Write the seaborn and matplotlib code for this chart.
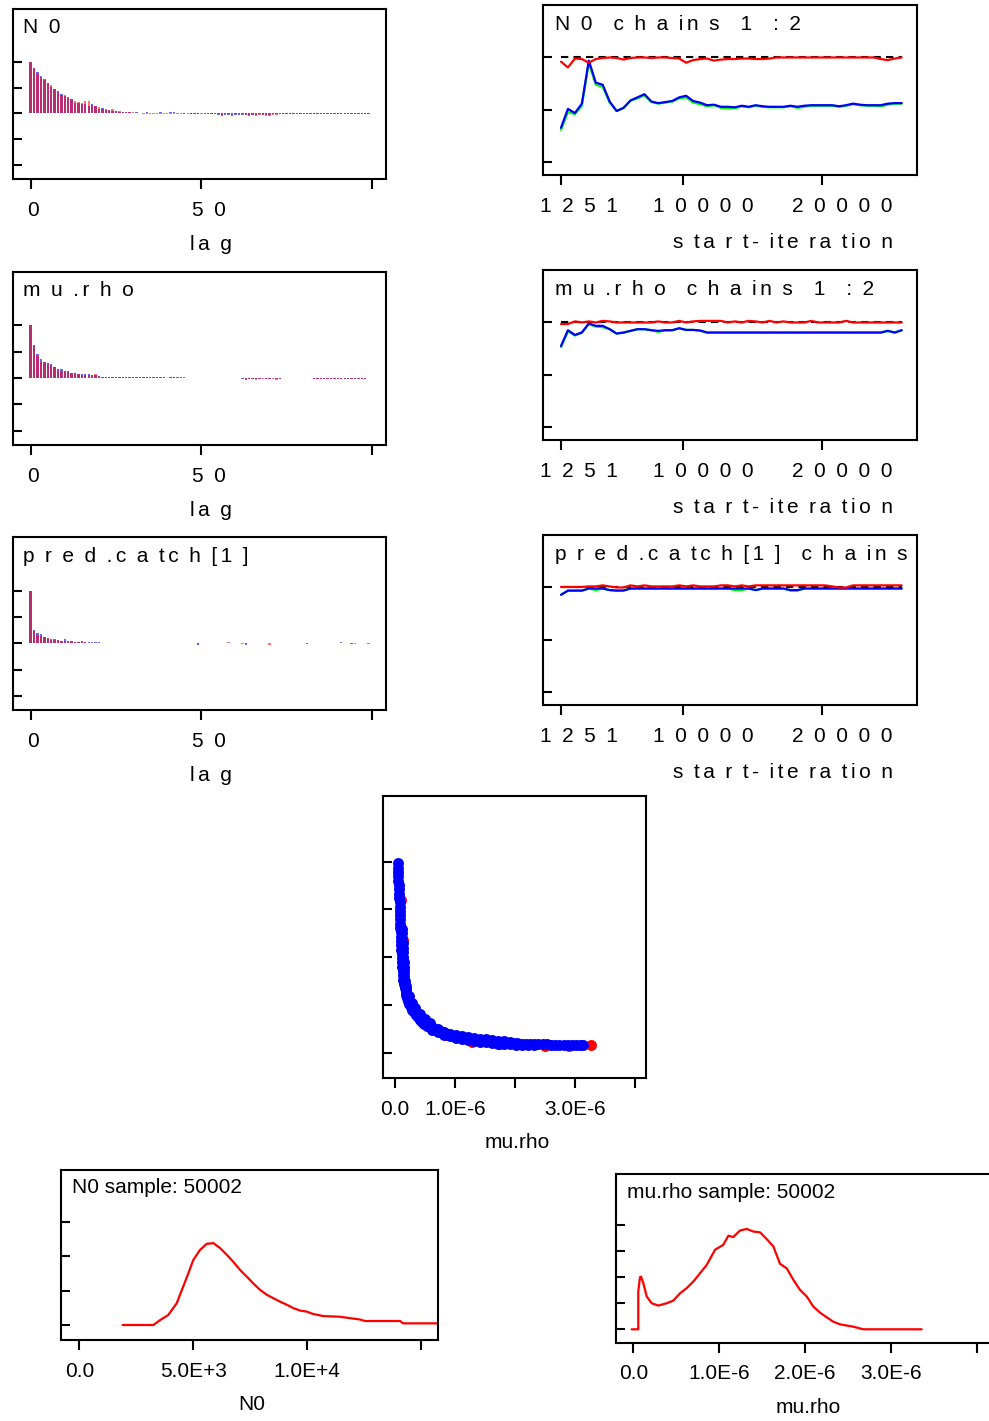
import numpy as np
import matplotlib
matplotlib.use("Agg")
import matplotlib.pyplot as plt
from matplotlib.transforms import ScaledTranslation
import seaborn as sns

# ---------------------------------------------------------------- data
# autocorrelation by lag (0..99), chain 1 (blue) and chain 2 (red)
n0_acf_c1 = [1.00, 0.88, 0.81, 0.73, 0.66, 0.59, 0.52, 0.48, 0.43, 0.38,
             0.34, 0.31, 0.27, 0.21, 0.20, 0.19, 0.19, 0.15, 0.18, 0.15,
             0.08, 0.10, 0.07, 0.07, 0.04, 0.05, 0.03, 0.02, 0.03, 0.02,
             0.01, 0.02, 0.01, 0.01, 0.02, 0.01, 0.00, 0.01, 0.02, 0.01,
             0.01, 0.03, 0.03, 0.01, 0.00, -0.01, 0.00, -0.01, -0.01, -0.01,
             0.00, -0.01, -0.02, -0.01, -0.02, -0.03, -0.05, -0.03, -0.03, -0.05,
             -0.03, -0.03, -0.03, -0.04, -0.05, -0.03, -0.03, -0.02, -0.03, -0.03,
             -0.04, -0.02, -0.01, -0.02, -0.01, -0.01, -0.01, -0.02, -0.01, -0.01,
             -0.01, -0.01, -0.01, -0.01, -0.01, -0.02, -0.01, -0.01, -0.02, -0.02,
             -0.01, -0.02, -0.01, -0.01, -0.02, -0.02, -0.02, -0.01, -0.01, -0.02]
n0_acf_c2 = [1.00, 0.87, 0.77, 0.69, 0.65, 0.58, 0.54, 0.47, 0.42, 0.36,
             0.35, 0.30, 0.27, 0.24, 0.22, 0.20, 0.24, 0.24, 0.17, 0.14,
             0.13, 0.09, 0.08, 0.06, 0.08, 0.05, 0.04, 0.03, 0.02, 0.02,
             0.02, 0.01, 0.00, -0.01, -0.02, -0.01, -0.01, -0.01, -0.02, -0.01,
             -0.01, -0.02, -0.02, -0.01, -0.01, -0.02, -0.01, -0.01, -0.02, -0.02,
             -0.01, -0.01, -0.01, -0.01, -0.02, -0.02, -0.03, -0.02, -0.02, -0.02,
             -0.02, -0.02, -0.02, -0.03, -0.03, -0.04, -0.06, -0.04, -0.04, -0.05,
             -0.06, -0.04, -0.03, -0.02, -0.02, -0.01, -0.01, -0.01, -0.01, -0.01,
             -0.01, -0.02, -0.02, -0.01, -0.01, -0.01, -0.01, -0.01, -0.01, -0.01,
             -0.01, -0.01, -0.01, -0.01, -0.01, -0.01, -0.01, -0.01, -0.01, -0.01]

murho_acf_c1 = [1.00, 0.62, 0.45, 0.37, 0.31, 0.28, 0.26, 0.21, 0.17, 0.17,
                0.13, 0.13, 0.10, 0.09, 0.08, 0.07, 0.07, 0.07, 0.05, 0.05,
                0.04, 0.03, 0.03, 0.03, 0.02, 0.02, 0.02, 0.02, 0.02, 0.02,
                0.02, 0.02, 0.02, 0.02, 0.02, 0.02, 0.02, 0.02, 0.02, 0.02,
                0.01, 0.03, 0.03, 0.02, 0.02, 0.03, 0.01, 0.01, 0.00, 0.00,
                0.01, 0.00, 0.00, 0.01, 0.00, 0.00, 0.00, 0.00, 0.00, 0.00,
                0.00, 0.00, -0.01, -0.03, -0.01, -0.01, -0.01, -0.01, 0.00, -0.01,
                -0.01, 0.00, -0.01, -0.01, 0.00, 0.00, 0.00, 0.00, 0.00, 0.01,
                0.00, 0.00, 0.00, -0.01, -0.01, -0.01, -0.01, -0.01, -0.01, -0.01,
                -0.01, -0.01, -0.01, -0.01, -0.01, -0.01, -0.01, -0.01, -0.01, 0.01]
murho_acf_c2 = [1.00, 0.60, 0.42, 0.31, 0.31, 0.28, 0.24, 0.21, 0.17, 0.14,
                0.14, 0.12, 0.10, 0.10, 0.08, 0.06, 0.05, 0.05, 0.06, 0.07,
                0.04, 0.03, 0.03, 0.02, 0.02, 0.02, 0.03, 0.02, 0.02, 0.02,
                0.03, 0.02, 0.02, 0.03, 0.02, 0.03, 0.02, 0.02, 0.03, 0.02,
                0.01, 0.02, 0.02, 0.01, 0.01, 0.01, 0.00, 0.00, 0.00, 0.00,
                0.00, 0.00, 0.00, 0.00, 0.00, 0.00, 0.00, 0.00, 0.00, 0.00,
                0.00, 0.00, 0.00, -0.01, -0.01, -0.01, -0.03, -0.01, -0.01, -0.01,
                -0.01, -0.01, -0.03, -0.01, 0.00, 0.00, 0.00, 0.00, 0.00, 0.00,
                0.00, 0.00, 0.00, -0.01, -0.01, -0.01, -0.01, -0.01, -0.02, -0.01,
                -0.01, -0.02, -0.01, -0.01, -0.01, -0.01, -0.01, -0.01, -0.02, 0.01]

catch_acf_c1 = [1.00, 0.25, 0.20, 0.17, 0.12, 0.10, 0.09, 0.08, 0.07, 0.05,
                0.08, 0.04, 0.04, 0.03, 0.03, 0.04, 0.02, 0.02, 0.02, 0.02,
                0.02, 0.01, 0.00, 0.00, 0.01, 0.00, 0.00, 0.01, 0.00, 0.00,
                0.00, 0.01, 0.00, 0.00, 0.00, 0.00, 0.01, 0.00, 0.00, 0.00,
                0.00, 0.00, 0.00, 0.00, 0.00, 0.00, 0.00, 0.00, 0.00, -0.03,
                0.00, 0.00, 0.00, 0.00, 0.00, 0.00, 0.00, 0.01, 0.00, 0.01,
                0.00, 0.00, 0.00, -0.03, 0.00, 0.00, 0.00, 0.00, 0.00, 0.00,
                0.00, 0.00, 0.00, 0.00, 0.00, 0.00, 0.00, 0.00, 0.00, 0.00,
                0.00, -0.02, 0.00, 0.00, 0.00, 0.00, 0.00, 0.00, 0.00, 0.00,
                0.00, 0.03, 0.00, 0.00, -0.02, 0.00, 0.00, 0.00, 0.00, 0.00]
catch_acf_c2 = [1.00, 0.24, 0.16, 0.14, 0.12, 0.10, 0.07, 0.07, 0.06, 0.05,
                0.05, 0.04, 0.05, 0.03, 0.02, 0.02, 0.02, 0.01, 0.01, 0.01,
                0.01, 0.00, 0.01, 0.00, 0.00, 0.01, 0.00, 0.00, 0.01, 0.00,
                0.00, 0.00, 0.00, 0.01, 0.00, 0.00, 0.00, 0.00, 0.00, 0.01,
                0.00, 0.00, 0.00, 0.01, 0.00, 0.00, 0.00, 0.00, 0.00, -0.01,
                0.00, 0.00, 0.00, 0.00, 0.01, 0.00, 0.00, 0.00, 0.03, 0.01,
                0.00, 0.00, -0.01, -0.01, 0.00, 0.00, 0.00, 0.00, 0.00, 0.00,
                -0.03, 0.00, 0.00, 0.00, 0.00, 0.00, 0.00, 0.00, 0.00, 0.00,
                0.00, 0.00, 0.00, 0.00, 0.00, 0.00, 0.00, 0.00, 0.00, 0.00,
                0.00, 0.00, 0.00, 0.00, 0.00, -0.01, 0.00, 0.00, 0.00, -0.01]

# Brooks-Gelman-Rubin diagnostic, evaluated every 500 iterations from 1251
start_iter = list(range(1251, 25752, 500))
n0_bgr_pooled = [0.31, 0.48, 0.46, 0.54, 0.95, 0.74, 0.72, 0.57, 0.49, 0.52,
                 0.59, 0.61, 0.64, 0.575, 0.56, 0.57, 0.58, 0.61, 0.62, 0.57,
                 0.555, 0.535, 0.545, 0.52, 0.515, 0.515, 0.535, 0.525, 0.54, 0.53,
                 0.525, 0.525, 0.525, 0.535, 0.52, 0.53, 0.54, 0.54, 0.54, 0.54,
                 0.53, 0.54, 0.555, 0.545, 0.54, 0.54, 0.535, 0.55, 0.56, 0.56]
n0_bgr_within = [0.33, 0.51, 0.47, 0.56, 0.97, 0.76, 0.74, 0.58, 0.49, 0.52,
                 0.59, 0.62, 0.65, 0.58, 0.565, 0.575, 0.585, 0.62, 0.635, 0.585,
                 0.57, 0.545, 0.55, 0.53, 0.53, 0.525, 0.54, 0.53, 0.545, 0.535,
                 0.53, 0.53, 0.53, 0.54, 0.53, 0.54, 0.545, 0.545, 0.545, 0.545,
                 0.535, 0.545, 0.56, 0.55, 0.545, 0.545, 0.545, 0.56, 0.565, 0.565]
n0_bgr_ratio = [0.96, 0.905, 0.99, 0.985, 0.95, 0.985, 0.995, 1.0, 0.995, 0.98,
                0.995, 1.0, 1.0, 0.995, 1.0, 1.0, 0.995, 0.99, 0.95, 0.975,
                0.985, 0.99, 0.97, 0.98, 0.985, 0.985, 0.99, 0.99, 0.985, 0.985,
                0.99, 1.0, 1.0, 1.0, 1.0, 1.0, 1.0, 1.0, 1.0, 1.0,
                1.0, 1.0, 1.0, 1.0, 1.0, 1.0, 0.985, 0.975, 0.99, 1.0]

murho_bgr_pooled = [0.765, 0.915, 0.875, 0.904, 0.985, 0.96, 0.955, 0.936, 0.894, 0.904,
                    0.92, 0.936, 0.936, 0.926, 0.91, 0.926, 0.926, 0.945, 0.929, 0.929,
                    0.923, 0.904, 0.904, 0.904, 0.904, 0.904, 0.904, 0.904, 0.904, 0.904,
                    0.904, 0.904, 0.904, 0.904, 0.904, 0.904, 0.904, 0.904, 0.904, 0.904,
                    0.904, 0.904, 0.904, 0.904, 0.904, 0.904, 0.904, 0.92, 0.904, 0.926]
murho_bgr_within = [0.776, 0.926, 0.881, 0.904, 0.99, 0.968, 0.968, 0.936, 0.894, 0.904,
                    0.92, 0.936, 0.936, 0.926, 0.92, 0.926, 0.926, 0.945, 0.929, 0.929,
                    0.923, 0.904, 0.904, 0.904, 0.904, 0.904, 0.904, 0.904, 0.904, 0.904,
                    0.904, 0.904, 0.904, 0.904, 0.904, 0.904, 0.904, 0.904, 0.904, 0.904,
                    0.904, 0.904, 0.904, 0.904, 0.904, 0.904, 0.904, 0.92, 0.904, 0.926]
murho_bgr_ratio = [0.985, 0.985, 1.01, 1.0, 1.01, 1.0, 1.015, 1.01, 1.0, 1.0,
                   1.0, 1.0, 1.0, 1.0, 1.01, 1.0, 1.0, 1.015, 1.0, 1.01,
                   1.015, 1.015, 1.015, 1.015, 1.0, 1.01, 1.0, 1.015, 1.01, 1.0,
                   1.015, 1.0, 1.01, 1.0, 1.0, 1.0, 1.015, 1.0, 1.0, 1.0,
                   1.0, 1.015, 1.0, 1.0, 1.0, 1.0, 1.0, 1.0, 1.0, 1.0]

catch_bgr_pooled = [0.93, 0.97, 0.97, 0.97, 0.99, 0.975, 0.99, 0.975, 0.97, 0.975,
                    0.99, 0.99, 0.99, 0.99, 0.99, 0.99, 0.99, 0.99, 0.99, 0.99,
                    0.99, 0.99, 0.99, 0.99, 0.99, 0.975, 0.975, 0.99, 0.975, 0.99,
                    0.99, 0.99, 0.99, 0.97, 0.97, 0.99, 0.99, 0.99, 0.99, 0.99,
                    0.99, 0.99, 0.99, 0.99, 0.99, 0.99, 0.99, 0.99, 0.99, 0.99]
catch_bgr_within = [0.93, 0.97, 0.97, 0.97, 0.99, 0.99, 0.99, 0.975, 0.97, 0.97,
                    0.99, 0.99, 0.99, 0.99, 0.99, 0.99, 0.99, 0.99, 0.99, 0.99,
                    0.99, 0.99, 0.99, 0.99, 0.99, 0.99, 0.99, 0.99, 0.975, 0.99,
                    0.99, 0.99, 0.99, 0.975, 0.975, 0.99, 0.99, 0.99, 0.99, 0.99,
                    0.99, 0.99, 0.99, 0.99, 0.99, 0.99, 0.99, 0.99, 0.99, 0.99]
catch_bgr_ratio = [1.005, 1.005, 1.005, 1.005, 1.01, 1.01, 1.02, 1.01, 1.0, 1.0,
                   1.02, 1.01, 1.02, 1.01, 1.01, 1.01, 1.01, 1.02, 1.01, 1.02,
                   1.01, 1.01, 1.01, 1.02, 1.02, 1.01, 1.02, 1.01, 1.02, 1.02,
                   1.02, 1.02, 1.02, 1.02, 1.02, 1.02, 1.02, 1.02, 1.02, 1.01,
                   1.0, 1.0, 1.02, 1.02, 1.02, 1.02, 1.02, 1.02, 1.02, 1.02]

# joint samples of mu.rho (units of 1e-6) and N0
murho_c1 = [0.050, 0.052, 0.054, 0.056, 0.058, 0.061, 0.064, 0.068, 0.072, 0.076,
            0.079, 0.081, 0.083, 0.085, 0.088, 0.091, 0.094, 0.098, 0.101, 0.105,
            0.108, 0.111, 0.114, 0.117, 0.121, 0.126, 0.131, 0.138, 0.148, 0.160,
            0.175, 0.19, 0.205, 0.222, 0.24, 0.265, 0.29, 0.315, 0.345, 0.375,
            0.41, 0.45, 0.49, 0.535, 0.58, 0.63, 0.68, 0.73, 0.79, 0.85,
            0.92, 0.99, 1.06, 1.13, 1.20, 1.27, 1.34, 1.41, 1.48, 1.55,
            1.62, 1.69, 1.76, 1.83, 1.90, 1.97, 2.04, 2.11, 2.18, 2.25,
            2.32, 2.39, 2.46, 2.53, 2.60, 2.67, 2.74, 2.81, 2.88, 2.95,
            3.02, 3.08, 3.13,
            0.116, 0.12, 0.124, 0.128, 0.132, 0.135, 0.138, 0.142, 0.146, 0.152,
            0.158, 0.166, 0.178,
            0.19, 0.23, 0.28, 0.34, 0.41, 0.50, 0.58,
            0.62, 0.72, 0.82, 0.92, 1.02, 1.12, 1.22, 1.32, 1.42, 1.52,
            1.62, 1.72, 1.82, 1.92,
            0.62, 0.72, 0.82, 0.92, 1.02, 1.12, 1.22, 1.32, 1.42, 1.52,
            1.62, 1.72, 1.82, 1.92, 2.02, 2.12, 2.22, 2.32]
n0_c1 = [39600, 38700, 37800, 36900, 36000, 35100, 34200, 33300, 32400, 31500,
         30600, 29700, 28800, 27900, 27000, 26100, 25200, 24300, 23400, 22500,
         21600, 20700, 19800, 18900, 18000, 17100, 16200, 15300, 14400, 13600,
         12800, 12100, 11400, 10800, 10250, 9600, 9000, 8450, 7950, 7450,
         6950, 6450, 6050, 5700, 5400, 5100, 4800, 4520, 4250, 3980,
         3720, 3520, 3330, 3160, 3010, 2880, 2760, 2640, 2540, 2450,
         2360, 2270, 2190, 2130, 2070, 2020, 1980, 1940, 1900, 1870,
         1840, 1810, 1770, 1740, 1710, 1690, 1670, 1650, 1640, 1640,
         1640, 1640, 1640,
         26000, 25000, 24000, 23000, 22000, 21000, 20000, 19000, 18000, 17000,
         16000, 15000, 14000,
         13300, 11800, 10500, 9300, 8200, 7100, 6300,
         5460, 4880, 4410, 4020, 3740, 3480, 3270, 3090, 2910, 2790,
         2660, 2540, 2440, 2350,
         4860, 4280, 3810, 3420, 3140, 2880, 2670, 2490, 2310, 2190,
         2060, 1940, 1840, 1750, 1690, 1640, 1600, 1560]
murho_c2 = [0.10, 0.125, 0.15, 0.19, 0.30, 0.50, 0.87, 1.29, 1.75, 2.50, 2.90, 3.27]
n0_c2 = [32000, 23500, 17500, 13000, 9000, 5950, 3650, 2350, 1800, 1480, 1480, 1640]

# kernel density estimates (N0: density in units of 1e-4)
n0_grid = [1900, 3250, 3540, 3900, 4270, 4560, 4780, 5000, 5290, 5590,
           5880, 6170, 6470, 6750, 7050, 7340, 7630, 7930, 8220, 8510,
           8800, 9100, 9390, 9680, 9970, 10260, 10700, 11430, 12310, 12530,
           14070, 14210, 16000]
n0_dens = [0.0, 0.0, 0.14, 0.29, 0.63, 1.12, 1.5, 1.89, 2.18, 2.36,
           2.38, 2.24, 2.04, 1.84, 1.6, 1.41, 1.21, 1.02, 0.88, 0.78,
           0.68, 0.59, 0.49, 0.42, 0.39, 0.32, 0.26, 0.24, 0.16, 0.116,
           0.116, 0.048, 0.048]
# mu.rho in units of 1e-6, density in units of 2e5
murho_grid = [-0.019, 0.058, 0.058, 0.078, 0.09, 0.117, 0.156, 0.214, 0.291, 0.389,
              0.466, 0.544, 0.622, 0.699, 0.777, 0.855, 0.952, 1.048, 1.107, 1.165,
              1.243, 1.321, 1.398, 1.476, 1.554, 1.631, 1.709, 1.787, 1.864, 1.942,
              2.02, 2.097, 2.175, 2.253, 2.33, 2.408, 2.563, 2.679, 3.359]
murho_dens = [0.0, 0.0, 1.45, 2.0, 2.02, 1.77, 1.26, 1.0, 0.91, 1.0,
              1.1, 1.38, 1.58, 1.83, 2.15, 2.47, 3.05, 3.24, 3.59, 3.54,
              3.79, 3.85, 3.75, 3.72, 3.46, 3.18, 2.51, 2.34, 1.9, 1.51,
              1.26, 0.87, 0.64, 0.46, 0.29, 0.19, 0.1, 0.0, 0.0]

lags = np.arange(len(n0_acf_c1))

# ---------------------------------------------------------------- style
sns.set_theme(style="white")
plt.rcParams["font.family"] = ["Liberation Sans", "DejaVu Sans"]
plt.rcParams.update({
    "axes.edgecolor": "black", "axes.linewidth": 1.5,
    "xtick.color": "black", "ytick.color": "black",
    "text.color": "black", "axes.labelcolor": "black",
    "font.size": 15,
})
RED, BLUE, GREEN = "#FF0000", "#0000FF", "#00FF00"
FS = 15

W, H = 989, 1421
fig = plt.figure(figsize=(W / 100, H / 100), dpi=100)
fig.patch.set_facecolor("white")


def box(l, t, r, b):
    return fig.add_axes([l / W, 1 - b / H, (r - l) / W, (b - t) / H])


def fx(x):
    return x / W


def fy(y):
    return 1 - y / H


def spaced(s):
    """Wide letter tracking: en space for word gaps, thin gap between letters."""
    out, prev = [], " "
    for ch in s:
        if ch == " ":
            out.append("\u2002")
        else:
            if prev != " ":
                out.append("\u2006")
            out.append(ch)
        prev = ch
    return "".join(out)


def frame(ax, xlim, ylim, xticks, xlabels, yticks, dx=None):
    ax.set_xlim(xlim)
    ax.set_ylim(ylim)
    ax.set_xticks(xticks)
    ax.set_xticklabels(xlabels)
    ax.set_yticks(yticks)
    ax.set_yticklabels([])
    ax.tick_params(axis="x", direction="out", length=7.5, width=1.5, pad=18.8,
                   labelsize=FS, bottom=True, top=False)
    ax.tick_params(axis="y", direction="in", length=6.5, width=1.5,
                   left=True, right=False)
    ax.grid(False)
    for sp in ax.spines.values():
        sp.set_visible(True)
        sp.set_linewidth(1.5)
        sp.set_color("black")
    labels = ax.get_xticklabels()
    for i, lab in enumerate(labels):
        lab.set_va("baseline")
        if dx is not None:
            lab.set_transform(lab.get_transform()
                              + ScaledTranslation(dx[i] / 100, 0, fig.dpi_scale_trans))


def xlabel(ax, text, cx, by):
    ax.set_xlabel(text, fontsize=FS)
    ax.xaxis.set_label_coords(fx(cx), fy(by), transform=fig.transFigure)
    ax.xaxis.label.set_va("baseline")
    ax.xaxis.label.set_ha("center")


# ---------------------------------------------------------------- autocorrelation panels
acf_sets = [("N 0", n0_acf_c1, n0_acf_c2),
            ("m u .r h o", murho_acf_c1, murho_acf_c2),
            ("p r e d .c a tc h [1 ]", catch_acf_c1, catch_acf_c2)]
acf_tops = [9, 271.7, 537.3]
acf_bots = [179, 445, 710]
for (name, c1, c2), top, bot in zip(acf_sets, acf_tops, acf_bots):
    ax = box(12.5, top, 386, bot)
    ax.bar(lags, c1, width=0.7, color=BLUE, alpha=0.6, linewidth=0)
    ax.bar(lags, c2, width=0.7, color=RED, alpha=0.55, linewidth=0)
    frame(ax, (-5.33, 104.1), (-1.27, 2.02), [0, 50, 100],
          [spaced("0"), spaced("5 0"), ""], [-1, -0.5, 0, 0.5, 1],
          dx=[2, 7.5, 0])
    xlabel(ax, spaced("la g"), 211, bot + 71)
    fig.text(fx(23.3), fy(top + 24.3), spaced(name), fontsize=FS,
             ha="left", va="baseline")

# ---------------------------------------------------------------- BGR panels
bgr_sets = [("N 0  c h a in s  1  : 2", n0_bgr_pooled, n0_bgr_within, n0_bgr_ratio),
            ("m u .r h o  c h a in s  1  : 2", murho_bgr_pooled, murho_bgr_within, murho_bgr_ratio),
            ("p r e d .c a tc h [1 ]  c h a in s", catch_bgr_pooled, catch_bgr_within, catch_bgr_ratio)]
bgr_tops = [5, 270, 535]
for (name, pooled, within, ratio), top in zip(bgr_sets, bgr_tops):
    bot = top + 170
    ax = box(543.3, top, 916.7, bot)
    ax.plot([start_iter[0], start_iter[-1]], [1, 1], color="black",
            lw=1.5, ls=(0, (3.5, 2.5)), zorder=2)
    sns.lineplot(x=start_iter, y=pooled, ax=ax, color=GREEN, lw=1.6,
                 estimator=None, sort=False, zorder=1)
    sns.lineplot(x=start_iter, y=within, ax=ax, color=BLUE, lw=1.6,
                 estimator=None, sort=False, zorder=1.5)
    sns.lineplot(x=start_iter, y=ratio, ax=ax, color=RED, lw=1.6,
                 estimator=None, sort=False, zorder=3)
    frame(ax, (-22, 26830), (-0.12, 1.5), [1251, 10000, 20000],
          [spaced("1 2 5 1"), spaced("1 0 0 0 0"), spaced("2 0 0 0 0")],
          [0, 0.5, 1], dx=[17.5, 21, 21])
    xlabel(ax, spaced("s ta r t- ite ra tio n"), 783, bot + 73.3)
    fig.text(fx(555), fy(top + 25), spaced(name), fontsize=FS,
             ha="left", va="baseline")

# ---------------------------------------------------------------- bivariate scatter
ax = box(382.7, 796, 646, 1078.3)
sns.scatterplot(x=murho_c2, y=n0_c2, ax=ax, color=RED, s=62, linewidth=0, zorder=2)
sns.scatterplot(x=murho_c1, y=n0_c1, ax=ax, color=BLUE, s=62, linewidth=0, zorder=3)
frame(ax, (-0.205, 4.183), (-5335, 53720), [0, 1, 2, 3, 4],
      ["0.0", "1.0E-6", "", "3.0E-6", ""], [0, 10000, 20000, 30000, 40000])
xlabel(ax, "mu.rho", 516.7, 1148.3)

# ---------------------------------------------------------------- posterior densities
ax = box(60.7, 1170, 438.3, 1340)
sns.lineplot(x=n0_grid, y=n0_dens, ax=ax, color=RED, lw=1.6,
             estimator=None, sort=False)
frame(ax, (-816, 15746), (-0.436, 4.506), [0, 5000, 10000, 15000],
      ["0.0", "5.0E+3", "1.0E+4", ""], [0, 1, 2, 3])
xlabel(ax, "N0", 252, 1410)
fig.text(fx(71.7), fy(1193.3), "N0 sample: 50002", fontsize=FS,
         ha="left", va="baseline")

ax = box(615.7, 1174, 1000, 1342.7)
sns.lineplot(x=murho_grid, y=murho_dens, ax=ax, color=RED, lw=1.6,
             estimator=None, sort=False)
frame(ax, (-0.205, 4.271), (-0.514, 5.957), [0, 1, 2, 3, 4],
      ["0.0", "1.0E-6", "2.0E-6", "3.0E-6", ""], [0, 1, 2, 3, 4])
xlabel(ax, "mu.rho", 808, 1413.3)
fig.text(fx(626.7), fy(1198.3), "mu.rho sample: 50002", fontsize=FS,
         ha="left", va="baseline")

fig.savefig("out.png", dpi=100, facecolor="white")
